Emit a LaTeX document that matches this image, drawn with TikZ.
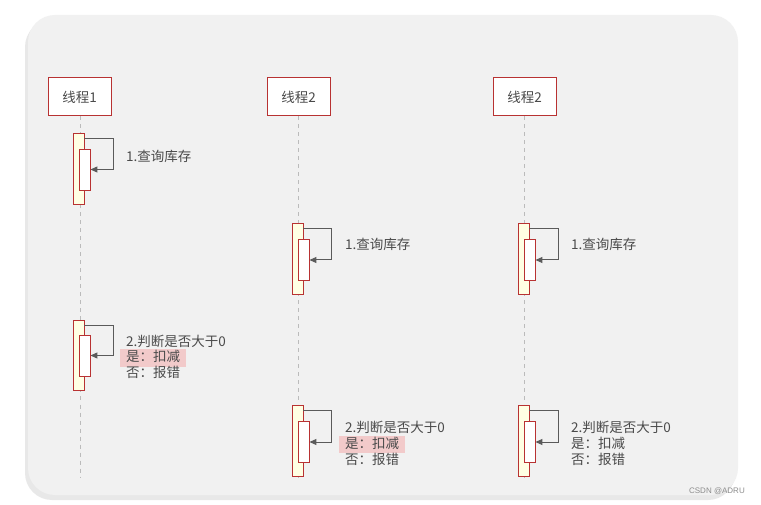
\documentclass[tikz,border=0pt]{standalone}
\usepackage{fontspec}
\setmainfont{Noto Sans CJK SC}
\newfontfamily\wmfont{Liberation Sans}
\usetikzlibrary{arrows.meta,shadows}
\definecolor{bgc}{HTML}{F1F1F1}
\definecolor{redb}{HTML}{B83232}
\definecolor{actf}{HTML}{FFFFE3}
\definecolor{arrc}{HTML}{5A5A5A}
\definecolor{txtc}{HTML}{4A4A4A}
\definecolor{hlc}{HTML}{F2CACA}
\definecolor{lifec}{HTML}{BBBBBB}
\tikzset{
  hdr/.style={draw=redb, line width=1pt, fill=white, minimum width=63pt, minimum height=38pt, inner sep=0pt, text=txtc, font=\fontsize{13.5}{15}\selectfont},
  actbox/.style={draw=redb, line width=0.9pt, fill=actf, minimum width=11pt, minimum height=71pt, inner sep=0pt},
  innbox/.style={draw=redb, line width=0.9pt, fill=white, minimum width=11pt, minimum height=41pt, inner sep=0pt},
  msg/.style={draw=arrc, line width=1pt, -{Triangle[length=7pt,width=6pt]}},
  life/.style={draw=lifec, dashed, line width=0.7pt, dash pattern=on 4pt off 4pt},
  lbl/.style={anchor=west, inner sep=0pt, text=txtc, font=\fontsize{13.5}{15}\selectfont, text height=10.5pt, text depth=3pt},
  hlbl/.style={lbl, fill=hlc, inner xsep=6pt, inner ysep=2pt},
}
\begin{document}
\begin{tikzpicture}[x=1pt,y=-1pt]
\useasboundingbox (0,0) rectangle (761,505);
\fill[white] (0,0) rectangle (761,505);
% panel with shadow
\fill[black!18] (26,19) [rounded corners=27pt] rectangle (736,498);
\fill[black!9] (25,20) [rounded corners=27pt] rectangle (735,500);
\fill[bgc, rounded corners=27pt] (28,15) rectangle (738,495);

% headers
\node[hdr] (h1) at (79.5,97) {线程1};
\node[hdr] (h2) at (298.5,97) {线程2};
\node[hdr] (h3) at (524.5,97) {线程2};

% lifeline ends
\coordinate (e1) at (80,478);
\coordinate (e2) at (298,478);
\coordinate (e3) at (524,478);
\draw[life] (h1.south -| e1) -- (e1);
\draw[life] (h2.south -| e2) -- (e2);
\draw[life] (h3.south -| e3) -- (e3);

% lane 1, step 1
\node[actbox] (a11) at (78.5,168.5) {};
\node[innbox] (i11) at (84.5,169.5) {};
\draw[msg] ([yshift=-6pt]a11.north east) -- ([xshift=29pt,yshift=-6pt]a11.north east) |- (i11.east);
\node[lbl] (t11) at (126,157.5) {1.查询库存};

% lane 1, step 2
\node[actbox, minimum height=70pt] (a12) at (78.5,355) {};
\node[innbox] (i12) at (84.5,355.5) {};
\draw[msg] ([yshift=-6pt]a12.north east) -- ([xshift=29pt,yshift=-6pt]a12.north east) |- (i12.east);
\node[lbl] (t12a) at (126,342.5) {2.判断是否大于0};
\node[hlbl] (t12b) at (120,358) {是：扣减};
\node[lbl] (t12c) at (126,373.5) {否：报错};

% lane 2, step 1
\node[actbox] (a21) at (297.5,258.5) {};
\node[innbox] (i21) at (303.5,260) {};
\draw[msg] ([yshift=-6pt]a21.north east) -- ([xshift=28pt,yshift=-6pt]a21.north east) |- (i21.east);
\node[lbl] (t21) at (345,245.5) {1.查询库存};

% lane 3, step 1
\node[actbox] (a31) at (523.5,258.5) {};
\node[innbox] (i31) at (529.5,260) {};
\draw[msg] ([yshift=-6pt]a31.north east) -- ([xshift=29pt,yshift=-6pt]a31.north east) |- (i31.east);
\node[lbl] (t31) at (571,245.5) {1.查询库存};

% lane 2, step 2
\node[actbox] (a22) at (297.5,440.5) {};
\node[innbox] (i22) at (303.5,442) {};
\draw[msg] ([yshift=-6pt]a22.north east) -- ([xshift=28pt,yshift=-6pt]a22.north east) |- (i22.east);
\node[lbl] (t22a) at (345,428.5) {2.判断是否大于0};
\node[hlbl] (t22b) at (339,444.5) {是：扣减};
\node[lbl] (t22c) at (345,460.5) {否：报错};

% lane 3, step 2
\node[actbox] (a32) at (523.5,440.5) {};
\node[innbox] (i32) at (529.5,442) {};
\draw[msg] ([yshift=-6pt]a32.north east) -- ([xshift=29pt,yshift=-6pt]a32.north east) |- (i32.east);
\node[lbl] (t32a) at (571,428.5) {2.判断是否大于0};
\node[lbl] (t32b) at (571,444.5) {是：扣减};
\node[lbl] (t32c) at (571,460.5) {否：报错};

% watermark
\node[anchor=east, inner sep=0pt, text=black!45, font=\wmfont\fontsize{8}{9}\selectfont] (wm) at (745,491) {CSDN @ADRU};
\end{tikzpicture}
\end{document}
